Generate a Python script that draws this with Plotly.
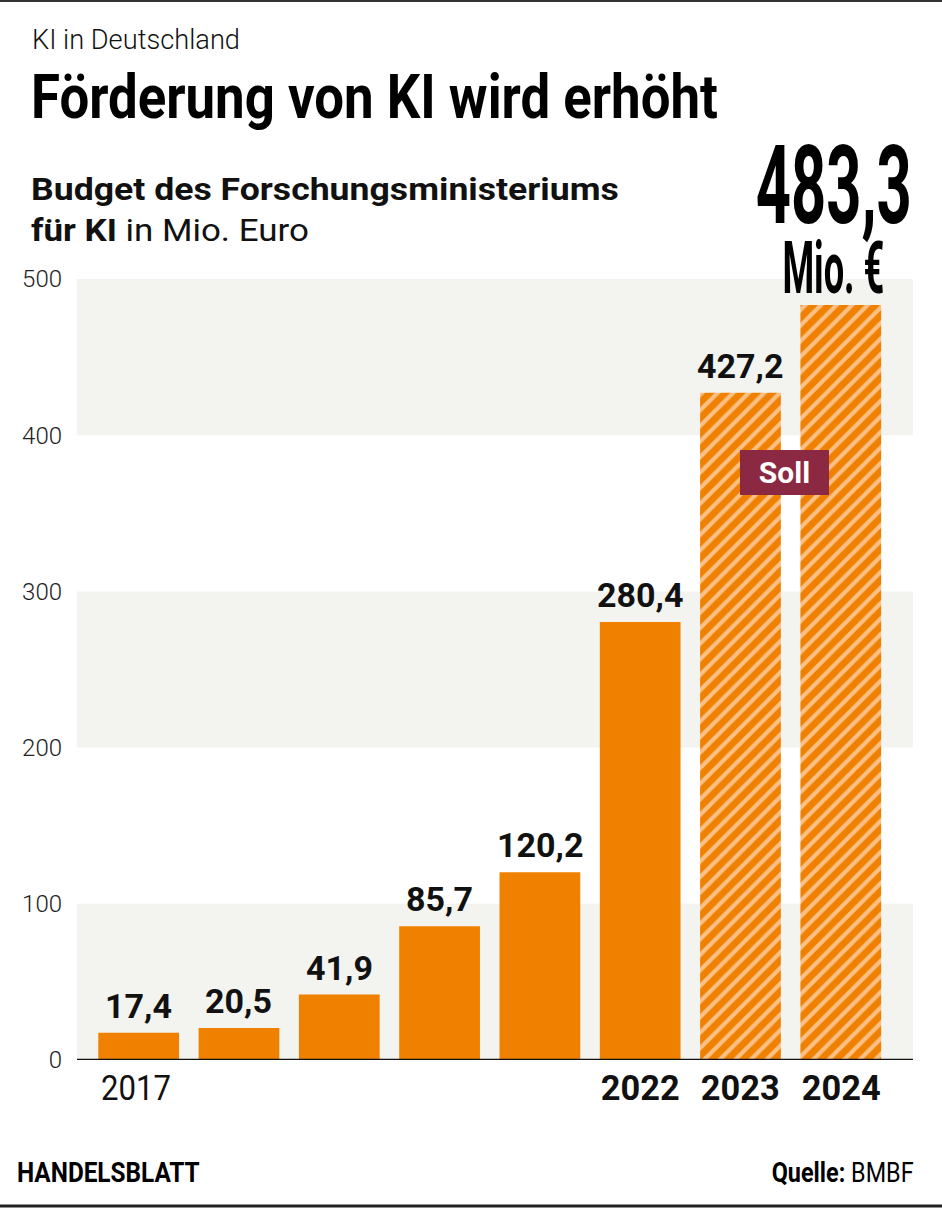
import json
import plotly.graph_objects as go

years = ["2017", "2018", "2019", "2020", "2021", "2022", "2023", "2024"]
values = [17.4, 20.5, 41.9, 85.7, 120.2, 280.4, 427.2, 483.3]
planned = [False, False, False, False, False, False, True, True]
shown_years = ["2017", "2022", "2023", "2024"]
bold_years = ["2022", "2023", "2024"]
y_ticks = [0, 100, 200, 300, 400, 500]

W, H = 942, 1208
L, R, T, B = 77, 913, 279, 1060  # plot area in px

def px(x):
    return (x - L) / (R - L)

def py(y):
    return (B - y) / (B - T)

ORANGE = "#F08000"
LIGHT = "#FBC086"
BAND = "#F3F3EF"
FONT = "Roboto, Liberation Sans, sans-serif"

def fmt(v):
    return f"{v:.1f}".replace(".", ",")

xs = list(range(len(years)))
fig = go.Figure()

solid_x = [x for x, p in zip(xs, planned) if not p]
solid_y = [v for v, p in zip(values, planned) if not p]
plan_x = [x for x, p in zip(xs, planned) if p]
plan_y = [v for v, p in zip(values, planned) if p]

fig.add_trace(go.Bar(x=solid_x, y=solid_y, width=0.805, marker=dict(color=ORANGE, line=dict(width=0)),
                     hoverinfo="skip"))
fig.add_trace(go.Bar(x=plan_x, y=plan_y, width=0.805,
                     marker=dict(color=LIGHT, line=dict(width=0),
                                 pattern=dict(shape="/", fgcolor=ORANGE, bgcolor=LIGHT, size=11, solidity=0.62,
                                              fillmode="replace")),
                     hoverinfo="skip"))

shapes = []
for lo in [0, 200, 400]:
    shapes.append(dict(type="rect", xref="paper", yref="y", x0=0, x1=1, y0=lo, y1=lo + 100,
                       fillcolor=BAND, line=dict(width=0), layer="below"))
shapes.append(dict(type="line", xref="paper", yref="y", x0=0, x1=1, y0=0, y1=0,
                   line=dict(color="#111", width=2.5)))
shapes.append(dict(type="line", xref="paper", yref="paper", x0=px(0), x1=px(W), y0=py(1), y1=py(1),
                   line=dict(color="#333", width=2)))
shapes.append(dict(type="line", xref="paper", yref="paper", x0=px(0), x1=px(W), y0=py(1206), y1=py(1206),
                   line=dict(color="#222", width=3)))

ann = []
squeeze = {}  # annotation index -> [target width px, transform origin]

def add(a, width=None, origin="center"):
    if width is not None:
        squeeze[len(ann)] = [width, origin]
    ann.append(a)

# value labels
for x, v, y in zip(xs, values, years):
    if y == "2024":
        continue
    add(dict(x=x, y=v, xref="x", yref="y", text=f"<b>{fmt(v)}</b>", showarrow=False,
             yanchor="bottom", yshift=5, font=dict(family=FONT, size=34, color="#111")))
# year labels
for x, y in zip(xs, years):
    if y in shown_years:
        if y in bold_years:
            add(dict(x=x, y=py(1088), xref="x", yref="paper", text=f"<b>{y}</b>", showarrow=False,
                     yanchor="middle", font=dict(family=FONT, size=35, color="#111")), 79, "center")
        else:
            add(dict(x=x - 0.4, y=py(1088), xref="x", yref="paper", text=y, showarrow=False,
                     xanchor="left", align="left", yanchor="middle",
                     font=dict(family=FONT, size=35, color="#111")), 70, "left")
# big total
add(dict(x=xs[-1], y=py(186), xref="x", yref="paper", text=f"<b>{fmt(values[-1])}</b>",
         showarrow=False, yanchor="middle", xshift=-7,
         font=dict(family=FONT, size=110, color="#000")), 156, "center")
add(dict(x=xs[-1], y=py(269), xref="x", yref="paper", text="<b>Mio. €</b>",
         showarrow=False, yanchor="middle", xshift=-7,
         font=dict(family=FONT, size=72, color="#000")), 102, "center")
# Soll
add(dict(x=6.44, y=376, xref="x", yref="y", text="<b>Soll</b>", showarrow=False,
         bgcolor="#8B2942", font=dict(family=FONT, size=30, color="white"),
         borderpad=0, borderwidth=0, width=89, height=45))
# titles
add(dict(x=px(30), y=py(40), xref="paper", yref="paper", text="KI in Deutschland",
         showarrow=False, xanchor="left", align="left", yanchor="middle",
         font=dict(family=FONT, size=27, color="#111", weight=300)), 208, "left")
add(dict(x=px(29), y=py(97), xref="paper", yref="paper", text="<b>Förderung von KI wird erhöht</b>",
         showarrow=False, xanchor="left", align="left", yanchor="middle",
         font=dict(family=FONT, size=62, color="#000")), 687, "left")
add(dict(x=px(29), y=py(189), xref="paper", yref="paper", text="<b>Budget des Forschungsministeriums</b>",
         showarrow=False, xanchor="left", align="left", yanchor="middle",
         font=dict(family=FONT, size=32, color="#111")), 588, "left")
add(dict(x=px(29), y=py(230), xref="paper", yref="paper", text="<b>für KI</b> in Mio. Euro",
         showarrow=False, xanchor="left", align="left", yanchor="middle",
         font=dict(family=FONT, size=32, color="#111")), 278, "left")
# footer
add(dict(x=px(15), y=py(1173), xref="paper", yref="paper", text="<b>HANDELSBLATT</b>",
         showarrow=False, xanchor="left", align="left", yanchor="middle",
         font=dict(family=FONT, size=27, color="#000")), 183, "left")
add(dict(x=px(916), y=py(1173), xref="paper", yref="paper", text="<b>Quelle:</b> BMBF",
         showarrow=False, xanchor="right", align="right", yanchor="middle",
         font=dict(family=FONT, size=27, color="#000")), 142, "right")

fig.update_layout(
    width=W, height=H,
    margin=dict(l=L, r=W - R, t=T, b=H - B, pad=0),
    paper_bgcolor="white", plot_bgcolor="white",
    showlegend=False, barmode="overlay",
    shapes=shapes, annotations=ann,
    xaxis=dict(range=[-0.615, 7.72], showticklabels=False, showgrid=False, zeroline=False,
               ticks="", fixedrange=True),
    yaxis=dict(range=[0, 500], tickvals=y_ticks, ticktext=[str(t) for t in y_ticks],
               showgrid=False, zeroline=False, ticks="", ticklabelstandoff=14,
               tickfont=dict(family=FONT, size=24, color="#222", weight=300), fixedrange=True),
)

post = """
document.body.style.margin = '0';
var SQ = %s;
document.querySelectorAll('g.annotation').forEach(function (g) {
  var i = g.getAttribute('data-index');
  if (!(i in SQ)) return;
  var t = g.querySelector('text.annotation-text');
  if (!t) return;
  var w = t.getBBox().width;
  if (!w) return;
  var s = SQ[i][0] / w;
  t.style.transformBox = 'fill-box';
  t.style.transformOrigin = SQ[i][1] + ' center';
  t.style.transform = 'scaleX(' + s + ')';
});
""" % json.dumps(squeeze)

fig.write_html("out.html", post_script=post, config={"displayModeBar": False, "staticPlot": True})
